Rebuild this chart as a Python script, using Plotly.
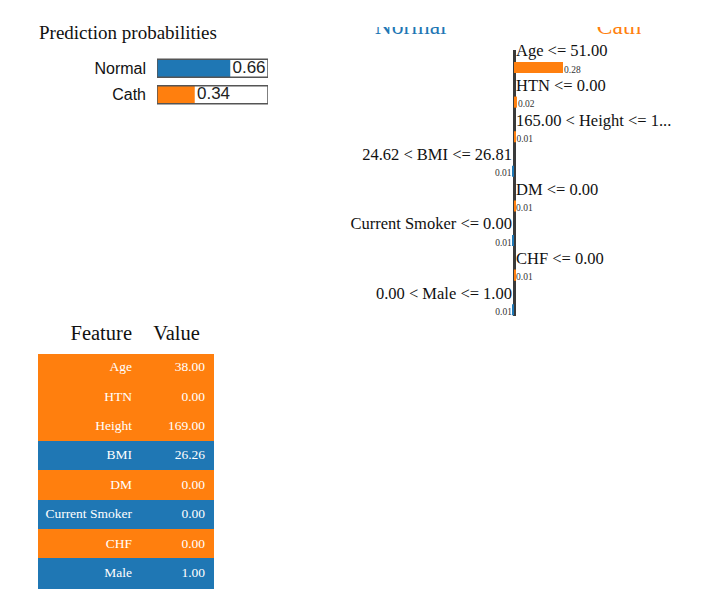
import plotly.graph_objects as go

# prediction probabilities
class_names = ['Normal', 'Cath']
class_probs = [0.66, 0.34]

# explanation (feature condition -> weight, positive pushes to Cath)
conditions = ['Age <= 51.00', 'HTN <= 0.00', '165.00 < Height <= 1...', '24.62 < BMI <= 26.81',
              'DM <= 0.00', 'Current Smoker <= 0.00', 'CHF <= 0.00', '0.00 < Male <= 1.00']
weights = [0.28, 0.017, 0.008, -0.008, 0.006, -0.007, 0.006, -0.006]

# feature values table
feature_names = ['Age', 'HTN', 'Height', 'BMI', 'DM', 'Current Smoker', 'CHF', 'Male']
feature_values = [38.00, 0.00, 169.00, 26.26, 0.00, 0.00, 0.00, 1.00]

BLUE = '#1f77b4'
ORANGE = '#ff7f0e'
SERIF = 'Liberation Serif'
SANS = 'Liberation Sans'
PAGE = 8  # body margin of the html page
W, H = 719 - PAGE, 609 - PAGE
PX = 1 / 175  # explanation x units per pixel


def fx(p):
    # screen pixel -> paper fraction
    return (p - PAGE) / W


def fy(p):
    return 1 - (p - PAGE) / H


class_colors = [BLUE, ORANGE]
sign_colors = [ORANGE if w > 0 else BLUE for w in weights]
rows = list(range(len(weights)))

fig = go.Figure()

# --- prediction probabilities
fig.add_trace(go.Bar(x=class_probs, y=class_names, orientation='h', width=0.68,
                     marker=dict(color=class_colors, line=dict(width=0)),
                     xaxis='x3', yaxis='y3', hoverinfo='skip'))
fig.add_trace(go.Bar(x=[1] * len(class_names), y=class_names, orientation='h', width=0.68,
                     marker=dict(color='rgba(0,0,0,0)', line=dict(color='#555555', width=1.5)),
                     xaxis='x3', yaxis='y3', hoverinfo='skip'))
fig.add_trace(go.Scatter(x=[p + 0.02 for p in class_probs], y=class_names, mode='text',
                         text=[f'{p:.2f}' for p in class_probs], textposition='middle right',
                         textfont=dict(family=SANS, size=17, color='#222222'),
                         cliponaxis=False, xaxis='x3', yaxis='y3', hoverinfo='skip'))

# --- explanation bars
fig.add_trace(go.Bar(x=weights, y=rows, orientation='h', width=0.32,
                     marker=dict(color=sign_colors, line=dict(width=0)),
                     xaxis='x2', yaxis='y2', hoverinfo='skip'))
pos = [i for i, w in enumerate(weights) if w > 0]
neg = [i for i, w in enumerate(weights) if w <= 0]
for idx, side, pad in ((pos, 'right', 2 * PX), (neg, 'left', -2 * PX)):
    fig.add_trace(go.Scatter(x=[pad] * len(idx), y=[rows[i] - 0.44 for i in idx], mode='text',
                             text=[conditions[i] for i in idx], textposition=f'middle {side}',
                             textfont=dict(family=SERIF, size=16.5, color='#111111'),
                             cliponaxis=False, xaxis='x2', yaxis='y2', hoverinfo='skip'))
    fig.add_trace(go.Scatter(x=[weights[i] + pad / 2 for i in idx], y=[rows[i] + 0.08 for i in idx],
                             mode='text', text=[f'{abs(weights[i]):.2f}' for i in idx],
                             textposition=f'middle {side}',
                             textfont=dict(family=SERIF, size=9.5, color='#333333'),
                             cliponaxis=False, xaxis='x2', yaxis='y2', hoverinfo='skip'))

# class headers above the explanation (top clipped like the original)
fig.add_trace(go.Scatter(x=[-0.59, 0.60], y=[0.96, 0.96], mode='text', text=class_names,
                         textposition='middle center',
                         textfont=dict(family=SERIF, size=23.5, color=class_colors),
                         cliponaxis=True, xaxis='x4', yaxis='y4', hoverinfo='skip'))

# --- feature value table
fig.add_trace(go.Table(
    domain=dict(x=[fx(38), fx(213)], y=[0.0, fy(317)]),
    columnwidth=[102, 73],
    header=dict(values=['Feature', 'Value'], height=36, align=['right', 'center'],
                fill_color='white', line_color='white',
                font=dict(family=SERIF, size=20.5, color='#111111')),
    cells=dict(values=[[n.replace(' ', '\u00a0') for n in feature_names],
                       [f'{v:.2f}' for v in feature_values]],
               height=29.4, align='right',
               fill_color=[sign_colors, sign_colors], line_color=[sign_colors, sign_colors],
               font=dict(family=SERIF, size=13.5, color='white')),
))

x2_range = [(340 - 514) * PX, (719 - 514) * PX]
hidden = dict(visible=False, showgrid=False, zeroline=False)
fig.update_layout(
    width=W, height=H, margin=dict(l=0, r=0, t=0, b=0),
    paper_bgcolor='white', plot_bgcolor='rgba(0,0,0,0)',
    showlegend=False, barmode='overlay',
    xaxis3=dict(domain=[fx(157), fx(268)], range=[0, 1], anchor='y3', **hidden),
    yaxis3=dict(domain=[fy(108), fy(55)], anchor='x3', autorange='reversed', type='category',
                showgrid=False, zeroline=False, showline=False, ticks='',
                ticklabelstandoff=10, tickfont=dict(family=SANS, size=16, color='#111111')),
    xaxis2=dict(domain=[fx(340), 1], range=x2_range, anchor='y2', showgrid=False,
                showticklabels=False, showline=False, ticks='',
                zeroline=True, zerolinewidth=3, zerolinecolor='#3a3a3a'),
    yaxis2=dict(domain=[fy(316), fy(50)], range=[7.18, -0.506], anchor='x2', **hidden),
    xaxis4=dict(domain=[fx(340), 1], range=x2_range, anchor='y4', **hidden),
    yaxis4=dict(domain=[fy(45), fy(27)], range=[0, 1], anchor='x4', **hidden),
    annotations=[dict(text='Prediction probabilities', x=fx(37), y=fy(33), xref='paper', yref='paper',
                      xanchor='left', yanchor='middle', showarrow=False,
                      font=dict(family=SERIF, size=19, color='#111111'))],
)

fig.write_html('out.html')
